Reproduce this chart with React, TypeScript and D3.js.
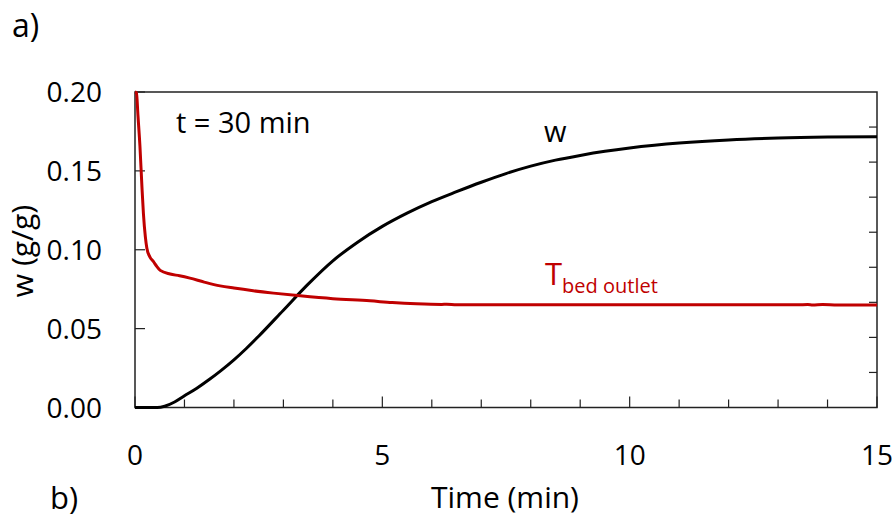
import React, { useEffect, useRef } from "react";
import * as d3 from "d3";

// ---- data ----
const wTime = [0, 0.2, 0.45, 0.6, 0.8, 1.0, 1.25, 1.5, 1.75, 2.0, 2.25, 2.5, 3.0, 3.5, 4.0, 4.5, 5.0, 5.5, 6.0, 6.5, 7.0, 7.5, 8.0, 8.5, 9.0, 9.5, 10.0, 10.5, 11, 12, 13, 14, 15];
const wValue = [0, 0, 0, 0.0008, 0.0035, 0.0074, 0.0122, 0.0177, 0.0237, 0.0302, 0.0374, 0.0452, 0.0617, 0.0782, 0.0930, 0.1048, 0.1148, 0.1232, 0.1305, 0.1368, 0.1428, 0.1483, 0.1530, 0.1568, 0.1598, 0.1624, 0.1645, 0.1662, 0.1676, 0.1696, 0.1708, 0.1714, 0.1716];

const tTime = [0, 0.03, 0.06, 0.1, 0.14, 0.17, 0.21, 0.24, 0.3, 0.37, 0.44, 0.51, 0.71, 0.9, 1.11, 1.4, 1.72, 2.0, 2.39, 2.8, 3.34, 4.0, 4.75, 5.2, 5.69, 6.2, 6.3, 6.5, 7.5, 9, 11, 12.5, 13.4, 13.6, 13.7, 13.9, 14.2, 15];
const tValue = [0.2, 0.1995, 0.185, 0.1656, 0.14, 0.123, 0.108, 0.101, 0.0955, 0.0926, 0.0895, 0.0869, 0.0846, 0.0835, 0.082, 0.0795, 0.0771, 0.0757, 0.074, 0.0725, 0.0708, 0.069, 0.0676, 0.0665, 0.0657, 0.0653, 0.0655, 0.0652, 0.0652, 0.0651, 0.0651, 0.0651, 0.0651, 0.0653, 0.065, 0.0653, 0.0649, 0.065];

const yTicks = [0, 0.05, 0.1, 0.15, 0.2];
const xMajorTicks = [0, 5, 10, 15];
const xMinorTicks = [1, 2, 3, 4, 6, 7, 8, 9, 11, 12, 13, 14];
const rightTicks = [1, 2, 3, 4, 5, 6, 7, 8]; // unlabeled secondary axis (9 intervals)

const FONT = "'Open Sans', 'Liberation Sans', sans-serif";

export default function App() {
  const ref = useRef<SVGSVGElement>(null);

  useEffect(() => {
    const svg = d3.select(ref.current);
    svg.selectAll("*").remove();

    const left = 135, right = 877, top = 92, bottom = 407.5;
    const x = d3.scaleLinear().domain([0, 15]).range([left, right]);
    const y = d3.scaleLinear().domain([0, 0.2]).range([bottom, top]);
    const y2 = d3.scaleLinear().domain([0, 9]).range([bottom, top]);

    const axisColor = "#222";

    // frame
    svg.append("rect")
      .attr("x", left).attr("y", top)
      .attr("width", right - left).attr("height", bottom - top)
      .attr("fill", "none").attr("stroke", axisColor).attr("stroke-width", 1.5);

    // left ticks
    svg.append("g").selectAll("line").data(yTicks).join("line")
      .attr("x1", left).attr("x2", left + 10)
      .attr("y1", (d) => y(d)).attr("y2", (d) => y(d))
      .attr("stroke", axisColor).attr("stroke-width", 1.2);

    // right ticks
    svg.append("g").selectAll("line").data(rightTicks).join("line")
      .attr("x1", right).attr("x2", right - 8)
      .attr("y1", (d) => y2(d)).attr("y2", (d) => y2(d))
      .attr("stroke", axisColor).attr("stroke-width", 1.2);

    // x ticks
    svg.append("g").selectAll("line").data(xMajorTicks).join("line")
      .attr("x1", (d) => x(d)).attr("x2", (d) => x(d))
      .attr("y1", bottom).attr("y2", bottom - 11)
      .attr("stroke", axisColor).attr("stroke-width", 1.2);
    svg.append("g").selectAll("line").data(xMinorTicks).join("line")
      .attr("x1", (d) => x(d)).attr("x2", (d) => x(d))
      .attr("y1", bottom).attr("y2", bottom - 8)
      .attr("stroke", axisColor).attr("stroke-width", 1.2);

    // tick labels
    svg.append("g").selectAll("text").data(yTicks).join("text")
      .attr("x", 102).attr("y", (d) => y(d) + 10)
      .attr("text-anchor", "end")
      .attr("font-family", FONT).attr("font-size", 28).attr("fill", "#000")
      .text((d) => d3.format(".2f")(d));
    svg.append("g").selectAll("text").data(xMajorTicks).join("text")
      .attr("x", (d) => x(d)).attr("y", 465)
      .attr("text-anchor", "middle")
      .attr("font-family", FONT).attr("font-size", 28).attr("fill", "#000")
      .text((d) => String(d));

    // lines
    const line = d3.line<[number, number]>()
      .x((d) => x(d[0])).y((d) => y(d[1]))
      .curve(d3.curveMonotoneX);

    svg.append("path")
      .datum(wTime.map((t, i) => [t, wValue[i]] as [number, number]))
      .attr("d", line)
      .attr("fill", "none").attr("stroke", "#000").attr("stroke-width", 3);

    svg.append("path")
      .datum(tTime.map((t, i) => [t, tValue[i]] as [number, number]))
      .attr("d", line)
      .attr("fill", "none").attr("stroke", "#C00000").attr("stroke-width", 3);

    // axis titles
    svg.append("text")
      .attr("transform", "translate(33,251) rotate(-90)")
      .attr("text-anchor", "middle")
      .attr("font-family", FONT).attr("font-size", 30).attr("fill", "#000")
      .text("w (g/g)");
    svg.append("text")
      .attr("x", 505).attr("y", 508)
      .attr("text-anchor", "middle")
      .attr("font-family", FONT).attr("font-size", 30).attr("fill", "#000")
      .text("Time (min)");

    // panel labels
    svg.append("text").attr("x", 12).attr("y", 37)
      .attr("font-family", FONT).attr("font-size", 32).attr("fill", "#000").text("a)");
    svg.append("text").attr("x", 50).attr("y", 509)
      .attr("font-family", FONT).attr("font-size", 31).attr("fill", "#000").text("b)");

    // annotations
    svg.append("text").attr("x", 176).attr("y", 133)
      .attr("font-family", FONT).attr("font-size", 29).attr("fill", "#000").text("t = 30 min");
    svg.append("text").attr("x", 544).attr("y", 142)
      .attr("font-family", FONT).attr("font-size", 29).attr("fill", "#000").text("w");
    const tl = svg.append("text").attr("x", 545).attr("y", 285)
      .attr("font-family", FONT).attr("fill", "#C00000");
    tl.append("tspan").attr("font-size", 31).text("T");
    tl.append("tspan").attr("font-size", 20).attr("dy", 8).text("bed outlet");
  }, []);

  return (
    <svg
      ref={ref}
      width={895}
      height={520}
      style={{ position: "absolute", left: 0, top: 0, background: "#fff" }}
    />
  );
}
